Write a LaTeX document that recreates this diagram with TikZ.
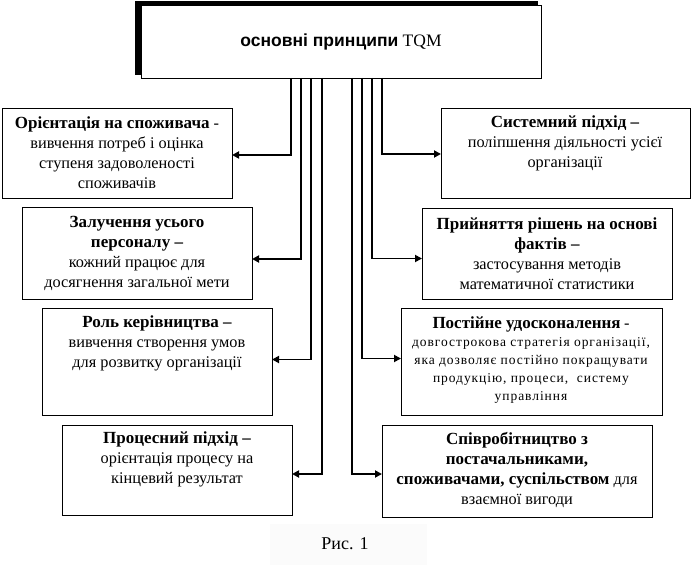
\documentclass[tikz,border=0pt]{standalone}
\usepackage{fontspec}
\setmainfont{Liberation Serif}
\newfontfamily\arialfont{Liberation Sans}
\newfontfamily\spacedfont[LetterSpace=7]{Liberation Serif}
\newcommand{\bt}[1]{{\fontsize{17}{20}\selectfont\bfseries #1}}
\usetikzlibrary{arrows.meta,calc}
\begin{document}
\begin{tikzpicture}[x=1pt,y=-1pt,
  box/.style={draw, line width=0.8pt, anchor=north west, inner sep=0pt, outer sep=0pt},
  conn/.style={line width=1.8pt, -{Triangle[length=7pt,width=7pt]}},
  txt/.style={align=center, inner sep=0pt, font=\fontsize{16.3}{20}\selectfont},
  small/.style={align=center, inner sep=0pt, font=\spacedfont\fontsize{13.5}{18}\selectfont}]
\useasboundingbox (0,0) rectangle (691,567);
% top box with shadow
\node[box, fill=black, minimum width=402pt, minimum height=73pt] (shadow) at (135,1) {};
\node[box, fill=white, minimum width=400pt, minimum height=73pt] (top) at (141,5) {};
\node[inner sep=0pt, font=\fontsize{17.5}{20}\selectfont] (toptxt) at (top.center) {{\arialfont\bfseries основні принципи} TQM};
% left boxes
\node[box, minimum width=230pt, minimum height=90pt] (L1) at (2,108) {};
\node[box, minimum width=230pt, minimum height=92pt] (L2) at (22,207) {};
\node[box, minimum width=230pt, minimum height=107pt] (L3) at (42,308) {};
\node[box, minimum width=230pt, minimum height=90pt] (L4) at (62,425) {};
% right boxes
\node[box, minimum width=249pt, minimum height=90pt] (R1) at (441,108) {};
\node[box, minimum width=250pt, minimum height=91pt] (R2) at (422,208) {};
\node[box, minimum width=261pt, minimum height=107pt] (R3) at (401,308) {};
\node[box, minimum width=270pt, minimum height=92pt] (R4) at (382,425) {};
% texts
\node[txt] (L1t) at (117,153) {\bt{Орієнтація на споживача} -\\вивчення потреб і оцінка\\ступеня задоволеності\\споживачів};
\node[txt] (L2t) at (137,253.5) {\bt{Залучення усього}\\\bt{персоналу –}\\кожний працює для\\досягнення загальної мети};
\node[txt] (L3t) at (157,343) {\bt{Роль керівництва –}\\вивчення створення умов\\для розвитку організації};
\node[txt] (L4t) at (177,459) {\bt{Процесний підхід –}\\орієнтація процесу на\\кінцевий результат};
\node[txt] (R1t) at (565,143) {\bt{Системний підхід –}\\поліпшення діяльності усієї\\організації};
\node[txt] (R2t) at (547,253.5) {\bt{Прийняття рішень на основі}\\\bt{фактів –}\\застосування методів\\математичної статистики};
\node[small] (R3t) at (531,360.5) {{\rmfamily\bt{Постійне удосконалення} {\fontsize{16.3}{20}\selectfont -}}\\довгострокова стратегія організації,\\яка дозволяє постійно покращувати\\продукцію, процеси,\ \ систему\\управління};
\node[txt] (R4t) at (517,470) {\bt{Співробітництво з}\\\bt{постачальниками,}\\\bt{споживачами, суспільством} для\\взаємної вигоди};
% caption
\fill[black!1.5] (270,524) rectangle (427,565);
\node[inner sep=0pt, font=\fontsize{18}{20}\selectfont] (cap) at (345,544) {Рис. 1};
% connector x positions
\coordinate (a1) at (291,0);
\coordinate (a2) at (301,0);
\coordinate (a3) at (311,0);
\coordinate (a4) at (322,0);
\coordinate (b4) at (352,0);
\coordinate (b3) at (362,0);
\coordinate (b2) at (372,0);
\coordinate (b1) at (382,0);
\draw[conn] (top.south -| a1) |- ([yshift=-2pt]L1.east);
\draw[conn] (top.south -| a2) |- ([yshift=-6pt]L2.east);
\draw[conn] (top.south -| a3) |- ([yshift=2pt]L3.east);
\draw[conn] (top.south -| a4) |- ([yshift=-4pt]L4.east);
\draw[conn] (top.south -| b1) |- ([yshift=-1pt]R1.west);
\draw[conn] (top.south -| b2) |- ([yshift=-5pt]R2.west);
\draw[conn] (top.south -| b3) |- ([yshift=3pt]R3.west);
\draw[conn] (top.south -| b4) |- ([yshift=-3pt]R4.west);
\end{tikzpicture}
\end{document}
